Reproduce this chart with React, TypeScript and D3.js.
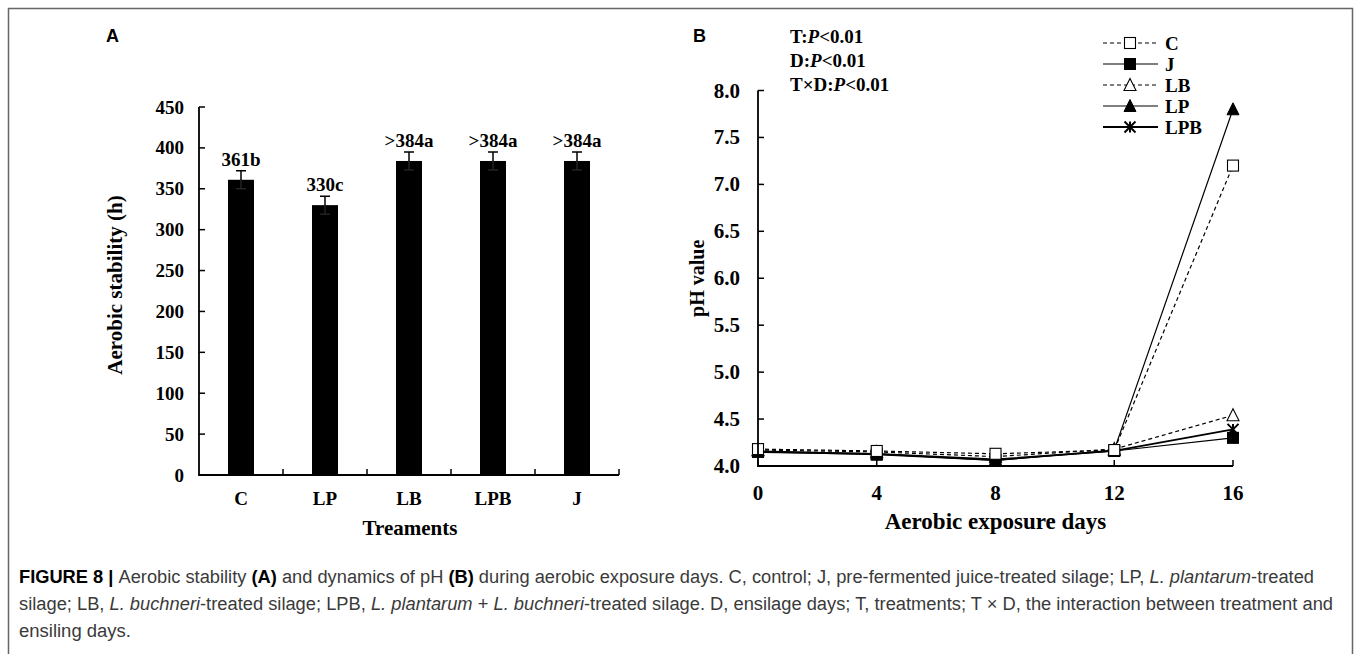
import React from "react";
import * as d3 from "d3";

// ---------- Panel A data ----------
const treatments = ["C", "LP", "LB", "LPB", "J"];
const stability = [361, 330, 384, 384, 384];
const stabilityErr = [11, 11, 11, 11, 11];
const stabilityLabels = ["361b", "330c", ">384a", ">384a", ">384a"];
const ticksA = [0, 50, 100, 150, 200, 250, 300, 350, 400, 450];

// ---------- Panel B data ----------
const days = [0, 4, 8, 12, 16];
const seriesNames = ["C", "J", "LB", "LP", "LPB"];
const phC = [4.18, 4.16, 4.13, 4.17, 7.2];
const phJ = [4.15, 4.12, 4.06, 4.16, 4.3];
const phLB = [4.17, 4.15, 4.1, 4.18, 4.54];
const phLP = [4.16, 4.13, 4.06, 4.17, 7.8];
const phLPB = [4.15, 4.13, 4.07, 4.16, 4.39];
const ticksB = [4.0, 4.5, 5.0, 5.5, 6.0, 6.5, 7.0, 7.5, 8.0];

const SERIF = "'Liberation Serif', 'Times New Roman', serif";
const SANS = "'Liberation Sans', Arial, sans-serif";
const NARROW = "'Liberation Sans Narrow', 'Liberation Sans', Arial, sans-serif";

type Style = { dash: string | null; marker: string; width: number };
const styles: Record<string, Style> = {
  C: { dash: "4,3", marker: "squareOpen", width: 1.2 },
  J: { dash: null, marker: "square", width: 1.2 },
  LB: { dash: "4,3", marker: "triOpen", width: 1.2 },
  LP: { dash: null, marker: "tri", width: 1.2 },
  LPB: { dash: null, marker: "star", width: 1.8 },
};

function Marker({ kind, x, y, s = 11 }: { kind: string; x: number; y: number; s?: number }) {
  const h = s / 2;
  if (kind === "squareOpen")
    return <rect x={x - h} y={y - h} width={s} height={s} fill="#fff" stroke="#000" strokeWidth={1.1} />;
  if (kind === "square")
    return <rect x={x - h} y={y - h} width={s} height={s} fill="#000" stroke="#000" strokeWidth={1} />;
  const tri = `M${x},${y - h - 1}L${x + h + 0.5},${y + h}L${x - h - 0.5},${y + h}Z`;
  if (kind === "triOpen") return <path d={tri} fill="#fff" stroke="#000" strokeWidth={1.1} />;
  if (kind === "tri") return <path d={tri} fill="#000" stroke="#000" strokeWidth={1} />;
  // star: X with vertical bar
  return (
    <path
      d={`M${x - h},${y - h}L${x + h},${y + h}M${x + h},${y - h}L${x - h},${y + h}M${x},${y - h}L${x},${y + h}`}
      stroke="#000"
      strokeWidth={2}
      fill="none"
    />
  );
}

export default function App() {
  // Panel A scales
  const xA = d3.scaleBand<string>().domain(treatments).range([199, 619]).padding(0);
  const yA = d3.scaleLinear().domain([0, 450]).range([475, 107]);
  const barW = 26;

  // Panel B scales
  const xB = d3.scaleLinear().domain([0, 16]).range([758, 1233]);
  const yB = d3.scaleLinear().domain([4, 8]).range([466, 90.5]);
  const seriesVals: Record<string, number[]> = { C: phC, J: phJ, LB: phLB, LP: phLP, LPB: phLPB };
  const line = d3
    .line<number>()
    .x((_, i) => xB(days[i]))
    .y((v) => yB(v));

  const drawOrder = ["LPB", "LP", "LB", "J", "C"];

  return (
    <svg width={1357} height={654} style={{ position: "absolute", left: 0, top: 0, background: "#fff" }}>
      {/* frame */}
      <path d="M8.5,654V8.5H1352.5V654" fill="none" stroke="#666" strokeWidth={1.5} />

      {/* ---------- Panel A ---------- */}
      <text x={106} y={42} fontFamily={SANS} fontWeight="bold" fontSize={18}>A</text>
      {/* bars */}
      {treatments.map((t, i) => {
        const cx = (xA(t) as number) + xA.bandwidth() / 2;
        return (
          <g key={t}>
            <rect x={cx - barW / 2} y={yA(stability[i])} width={barW} height={yA(0) - yA(stability[i])} fill="#000" />
            <path
              d={`M${cx},${yA(stability[i] - stabilityErr[i])}V${yA(stability[i] + stabilityErr[i])}M${cx - 5},${yA(
                stability[i] + stabilityErr[i]
              )}H${cx + 5}`}
              stroke="#000"
              strokeWidth={1.5}
            />
            <path d={`M${cx},${yA(stability[i])}V${yA(stability[i] - stabilityErr[i])}M${cx - 5},${yA(stability[i] - stabilityErr[i])}H${cx + 5}`} stroke="#333" strokeWidth={1} />
            <text
              x={cx}
              y={yA(stability[i] + stabilityErr[i]) - 5}
              textAnchor="middle"
              fontFamily={SERIF}
              fontWeight="bold"
              fontSize={19}
            >
              {stabilityLabels[i]}
            </text>
            <text x={cx} y={505} textAnchor="middle" fontFamily={SERIF} fontWeight="bold" fontSize={19}>
              {t}
            </text>
          </g>
        );
      })}
      {/* axes A */}
      <path d={`M199,${yA(450)}V${yA(0)}H619`} fill="none" stroke="#000" strokeWidth={1.8} />
      {ticksA.map((v) => (
        <g key={v}>
          <path d={`M199,${yA(v)}H205`} stroke="#000" strokeWidth={1.5} />
          <text x={184} y={yA(v) + 6.5} textAnchor="end" fontFamily={SERIF} fontWeight="bold" fontSize={19}>
            {v}
          </text>
        </g>
      ))}
      {treatments.map((t) => {
        const xr = (xA(t) as number) + xA.bandwidth();
        return <path key={t} d={`M${xr},${yA(0)}V${yA(0) - 6}`} stroke="#000" strokeWidth={1.5} />;
      })}
      <text
        transform={`translate(115,285) rotate(-90)`}
        textAnchor="middle"
        dy="0.35em"
        fontFamily={SERIF}
        fontWeight="bold"
        fontSize={21}
      >
        Aerobic stability (h)
      </text>
      <text x={410} y={535} textAnchor="middle" fontFamily={SERIF} fontWeight="bold" fontSize={21}>
        Treaments
      </text>

      {/* ---------- Panel B ---------- */}
      <text x={693} y={42} fontFamily={SANS} fontWeight="bold" fontSize={18}>B</text>
      <g fontFamily={SERIF} fontWeight="bold" fontSize={19}>
        <text x={790} y={43}>
          T:<tspan fontStyle="italic">P</tspan>&lt;0.01
        </text>
        <text x={790} y={67}>
          D:<tspan fontStyle="italic">P</tspan>&lt;0.01
        </text>
        <text x={790} y={91}>
          T×D:<tspan fontStyle="italic">P</tspan>&lt;0.01
        </text>
      </g>
      {/* lines */}
      {drawOrder.map((n) => (
        <path
          key={n}
          d={line(seriesVals[n]) as string}
          fill="none"
          stroke="#000"
          strokeWidth={styles[n].width}
          strokeDasharray={styles[n].dash ?? undefined}
        />
      ))}
      {drawOrder.map((n) =>
        seriesVals[n].map((v, i) => <Marker key={n + i} kind={styles[n].marker} x={xB(days[i])} y={yB(v)} />)
      )}
      {/* axes B */}
      <path d={`M758,${yB(8)}V${yB(4)}H1233`} fill="none" stroke="#000" strokeWidth={1.8} />
      {ticksB.map((v) => (
        <g key={v}>
          <path d={`M758,${yB(v)}H764`} stroke="#000" strokeWidth={1.5} />
          <text x={740} y={yB(v) + 7} textAnchor="end" fontFamily={SERIF} fontWeight="bold" fontSize={21}>
            {v.toFixed(1)}
          </text>
        </g>
      ))}
      {days.map((d) => (
        <g key={d}>
          <path d={`M${xB(d)},${yB(4)}V${yB(4) - 6}`} stroke="#000" strokeWidth={1.5} />
          <text x={xB(d)} y={500} textAnchor="middle" fontFamily={SERIF} fontWeight="bold" fontSize={21}>
            {d}
          </text>
        </g>
      ))}
      <text
        transform={`translate(697,${(yB(4) + yB(8)) / 2}) rotate(-90)`}
        textAnchor="middle"
        dy="0.35em"
        fontFamily={SERIF}
        fontWeight="bold"
        fontSize={20}
      >
        pH value
      </text>
      <text x={xB(8)} y={529} textAnchor="middle" fontFamily={SERIF} fontWeight="bold" fontSize={23}>
        Aerobic exposure days
      </text>

      {/* legend */}
      {seriesNames.map((n, i) => {
        const y = 43 + i * 21;
        return (
          <g key={n}>
            <path
              d={`M1103,${y}H1158`}
              stroke="#000"
              strokeWidth={styles[n].width}
              strokeDasharray={styles[n].dash ?? undefined}
            />
            <Marker kind={styles[n].marker} x={1130} y={y} />
            <text x={1165} y={y + 6.5} fontFamily={SERIF} fontWeight="bold" fontSize={19}>
              {n}
            </text>
          </g>
        );
      })}

      {/* caption */}
      <g fontFamily={NARROW} fontSize={18} fill="#3a3a3a">
        <text x={19} y={583} textLength={1295} lengthAdjust="spacingAndGlyphs">
          <tspan fontWeight="bold" fill="#000">FIGURE 8 | </tspan>Aerobic stability{" "}
          <tspan fontWeight="bold" fill="#000">(A)</tspan> and dynamics of pH{" "}
          <tspan fontWeight="bold" fill="#000">(B)</tspan> during aerobic exposure days. C, control; J, pre-fermented
          juice-treated silage; LP, <tspan fontStyle="italic">L. plantarum</tspan>-treated
        </text>
        <text x={19} y={610} textLength={1314} lengthAdjust="spacingAndGlyphs">
          silage; LB, <tspan fontStyle="italic">L. buchneri</tspan>-treated silage; LPB,{" "}
          <tspan fontStyle="italic">L. plantarum</tspan> + <tspan fontStyle="italic">L. buchneri</tspan>-treated
          silage. D, ensilage days; T, treatments; T × D, the interaction between treatment and
        </text>
        <text x={19} y={637} textLength={112} lengthAdjust="spacingAndGlyphs">
          ensiling days.
        </text>
      </g>
    </svg>
  );
}
